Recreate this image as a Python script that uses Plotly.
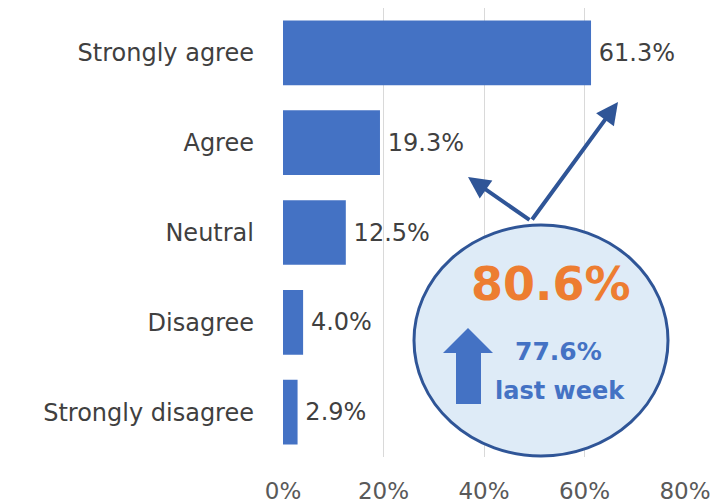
import plotly.graph_objects as go

categories = ["Strongly agree", "Agree", "Neutral", "Disagree", "Strongly disagree"]
values = [61.3, 19.3, 12.5, 4.0, 2.9]
tick_vals = [0, 20, 40, 60, 80]
tick_text = ["0%", "20%", "40%", "60%", "80%"]
headline = "80.6%"
last_week = "77.6%"

FONT = "DejaVu Sans"
BLUE = "#4472C4"
DARK = "#2F5597"
GREY = "#404040"

fig = go.Figure(go.Bar(
    x=values, y=categories, orientation="h",
    marker=dict(color=BLUE, line=dict(width=0)),
    text=[f"\u2009{v:.1f}%" for v in values], textposition="outside",
    textfont=dict(family=FONT, size=24, color=GREY),
    cliponaxis=False, hoverinfo="skip",
))

# page pixel -> axis helpers (layout only); page body has an 8px offset
X0, PXW = 283, 402 / 80
Y0, PH = 457, 449
def dx(px):
    return (px - X0) / PXW
def py(p):
    return (Y0 - p) / PH

YR = "y domain"
shapes = [
    dict(type="circle", xref="x", yref=YR,
         x0=dx(414), x1=dx(668), y0=py(456), y1=py(225),
         fillcolor="#DEEBF7", line=dict(color=DARK, width=3), layer="above"),
    dict(type="path", xref="x", yref=YR,
         path=(f"M {dx(468)},{py(328)} L {dx(493)},{py(353)} L {dx(481)},{py(353)} "
               f"L {dx(481)},{py(404)} L {dx(456)},{py(404)} L {dx(456)},{py(353)} "
               f"L {dx(443)},{py(353)} Z"),
         fillcolor=BLUE, line=dict(width=0), layer="above"),
]

annotations = [
    dict(x=dx(618), y=py(102), ax=dx(531), ay=py(221), xref="x", yref=YR,
         axref="x", ayref=YR, text="", showarrow=True, arrowhead=2,
         arrowsize=1.1, arrowwidth=4, arrowcolor=DARK),
    dict(x=dx(468), y=py(177), ax=dx(531), ay=py(221), xref="x", yref=YR,
         axref="x", ayref=YR, text="", showarrow=True, arrowhead=2,
         arrowsize=1.1, arrowwidth=4, arrowcolor=DARK),
    dict(x=dx(551), y=py(284), xref="x", yref=YR, text=f"<b>{headline}</b>",
         xanchor="center", yanchor="middle",
         showarrow=False, font=dict(family=FONT, size=46, color="#ED7D31")),
    dict(x=dx(558), y=py(352), xref="x", yref=YR, text=f"<b>{last_week}</b>",
         xanchor="center", yanchor="middle",
         showarrow=False, font=dict(family=FONT, size=25, color=BLUE)),
    dict(x=dx(560), y=py(391), xref="x", yref=YR, text="<b>last week</b>",
         xanchor="center", yanchor="middle",
         showarrow=False, font=dict(family=FONT, size=24, color=BLUE)),
]

fig.update_layout(
    width=719, height=503,
    margin=dict(l=275, r=42, t=0, b=54),
    paper_bgcolor="white", plot_bgcolor="white",
    bargap=0.28, showlegend=False,
    shapes=shapes, annotations=annotations,
    xaxis=dict(range=[0, 80], tickvals=tick_vals, ticktext=tick_text,
               showgrid=True, gridcolor="#D9D9D9", gridwidth=1,
               zeroline=False, showline=False, ticks="",
               ticklabelstandoff=18,
               tickfont=dict(family=FONT, size=23, color="#595959"), fixedrange=True),
    yaxis=dict(categoryorder="array", categoryarray=categories, autorange="reversed",
               showgrid=False, zeroline=False, showline=False, ticks="",
               ticklabelstandoff=28,
               tickfont=dict(family=FONT, size=24, color=GREY), fixedrange=True),
)

fig.write_html("out.html")
